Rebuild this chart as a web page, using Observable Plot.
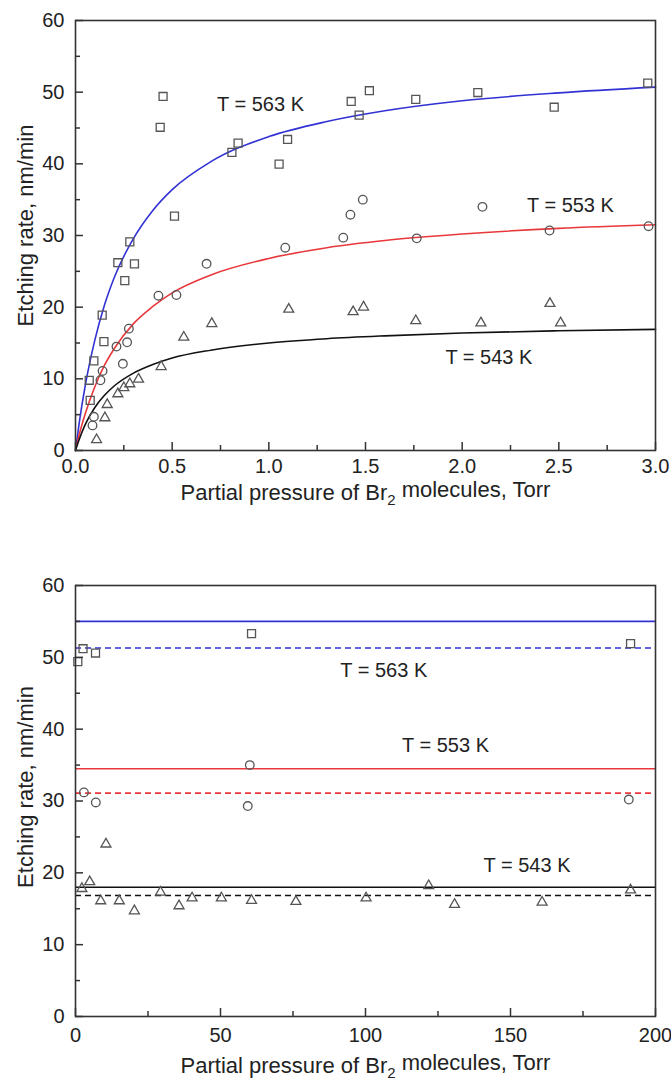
<!DOCTYPE html>
<html><head><meta charset="utf-8">
<script src="https://cdn.jsdelivr.net/npm/d3@7"></script>
<script src="https://cdn.jsdelivr.net/npm/@observablehq/plot@0.6"></script>
<style>body{margin:0;background:#fff;} #chart svg{display:block;}</style>
</head><body><div id="chart"></div>
<script>
// ---------- Data: top panel (0–3 Torr) ----------
const sq563x = [0.071,0.076,0.095,0.138,0.147,0.219,0.255,0.281,0.305,0.438,0.453,0.512,0.809,0.841,1.053,1.097,1.426,1.467,1.52,1.76,2.081,2.476,2.96];
const sq563y = [9.8,7.0,12.5,18.9,15.2,26.2,23.7,29.1,26.05,45.1,49.4,32.7,41.6,42.9,39.95,43.4,48.7,46.8,50.2,49.0,49.95,47.9,51.25];
const ci553x = [0.088,0.095,0.129,0.140,0.212,0.245,0.267,0.276,0.429,0.522,0.678,1.085,1.385,1.422,1.486,1.765,2.105,2.452,2.964];
const ci553y = [3.5,4.7,9.8,11.1,14.5,12.1,15.1,17.0,21.6,21.7,26.05,28.3,29.7,32.9,35.0,29.6,34.0,30.7,31.3];
const tr543x = [0.109,0.152,0.164,0.219,0.250,0.281,0.326,0.443,0.560,0.705,1.103,1.436,1.49,1.76,2.097,2.454,2.509];
const tr543y = [1.5,4.55,6.4,7.9,8.75,9.3,9.95,11.7,15.8,17.7,19.7,19.35,20.0,18.1,17.8,20.5,17.8];
// fitted curves
const curveX  = [0,0.02,0.05,0.1,0.15,0.2,0.3,0.4,0.5,0.7,1.0,1.3,1.6,2.0,2.5,3.0];
const fit563  = [0,4.0,9.0,15.4,20.3,24.1,29.6,33.5,36.4,40.3,43.8,45.9,47.4,48.8,49.9,50.7];
const fit553  = [0,2.3,5.1,8.9,11.9,14.2,17.7,20.1,22.0,24.5,26.8,28.3,29.3,30.2,31.0,31.5];
const fit543  = [0,1.6,3.6,6.0,7.7,9.0,10.8,12.0,12.9,14.0,15.0,15.6,16.0,16.4,16.7,16.9];
const labelsTop = [{t:"T = 563 K", x:0.957, y:48.3},{t:"T = 553 K", x:2.56, y:34.2},{t:"T = 543 K", x:2.138, y:13.0}];
const xMajorTop = [0,0.5,1.0,1.5,2.0,2.5,3.0];
const xMinorTop = [0.25,0.75,1.25,1.75,2.25,2.75];

// ---------- Data: bottom panel (0–200 Torr) ----------
const sqBx = [0.8,2.6,6.9,60.7,191.4];
const sqBy = [49.4,51.2,50.6,53.3,51.9];
const ciBx = [2.9,7.0,59.4,60.1,190.8];
const ciBy = [31.2,29.8,29.3,35.0,30.2];
const trBx = [2.2,4.9,8.7,10.5,15.1,20.3,29.3,35.7,40.2,50.3,60.7,76.0,100.2,121.8,130.7,160.9,191.4];
const trBy = [17.8,18.75,16.1,24.0,16.1,14.7,17.3,15.4,16.5,16.5,16.15,16.0,16.5,18.2,15.6,15.9,17.6];
const solidLevels  = [55.0, 34.5, 18.0];
const dashedLevels = [51.3, 31.1, 16.85];
const labelsBot = [{t:"T = 563 K", x:106.3, y:48.1},{t:"T = 553 K", x:127.6, y:37.7},{t:"T = 543 K", x:155.7, y:21.0}];
const xMajorBot = [0,50,100,150,200];
const xMinorBot = [25,75,125,175];

const yMajor = [0,10,20,30,40,50,60];
const yMinor = [5,15,25,35,45,55];
const yTitle = "Etching rate, nm/min";
const xTitle = "Partial pressure of Br2 molecules, Torr";

const colors = ["#3232d4", "#e8383c", "#111111"];
const FONT = "'Liberation Sans', Arial, Helvetica, sans-serif";
const W = 671, ML = 75, MR = 16;
const FW = W - ML - MR;
const markerStroke = "#555";

const zip = (xs, ys) => xs.map((x, i) => ({x, y: ys[i]}));

function panel({height, mt, mb, xDomain, xMajor, xMinor, fmt, series, extraMarks, labels, labDy, titleDy, yTitleDy}) {
  const FH = height - mt - mb;
  const marks = [
    ...extraMarks,
    Plot.dot(series[0], {x:"x", y:"y", symbol:"square", r:4.5, stroke:markerStroke, strokeWidth:1.3, fill:"none"}),
    Plot.dot(series[1], {x:"x", y:"y", symbol:"circle", r:4.3, stroke:markerStroke, strokeWidth:1.3, fill:"none"}),
    Plot.dot(series[2], {x:"x", y:"y", symbol:"triangle", r:3.7, stroke:markerStroke, strokeWidth:1.3, fill:"none"}),
    Plot.text(labels, {x:"x", y:"y", text:"t", fontSize:20, fill:"#222"}),
    Plot.frame({stroke:"#333", strokeWidth:1.6}),
    Plot.tickX(xMajor, {x:d=>d, insetTop:FH-8, stroke:"#333", strokeWidth:1.5}),
    Plot.tickX(xMinor, {x:d=>d, insetTop:FH-5, stroke:"#333", strokeWidth:1.5}),
    Plot.tickY(yMajor, {y:d=>d, insetRight:FW-8, stroke:"#333", strokeWidth:1.5}),
    Plot.tickY(yMinor, {y:d=>d, insetRight:FW-5, stroke:"#333", strokeWidth:1.5}),
    Plot.axisX(xMajor, {tickSize:0, tickPadding:labDy, tickFormat:fmt, fontSize:20, fill:"#222", label:null}),
    Plot.axisY(yMajor, {tickSize:0, tickPadding:11, fontSize:20, fill:"#222", label:null}),
    Plot.text([xTitle], {text:d=>d, frameAnchor:"bottom", textAnchor:"middle", dy:titleDy, fontSize:22, fill:"#222"}),
    Plot.text([yTitle], {text:d=>d, frameAnchor:"left", textAnchor:"middle", rotate:-90, dx:-50, dy:yTitleDy, fontSize:22, fill:"#222"})
  ];
  const svg = Plot.plot({
    width: W, height, marginTop: mt, marginBottom: mb, marginLeft: ML, marginRight: MR,
    style: {fontFamily: FONT, background: "#fff", overflow: "visible"},
    x: {domain: xDomain, nice: false, axis: null},
    y: {domain: [0, 60], nice: false, axis: null},
    marks
  });
  d3.select(svg).selectAll("text").each(function() {
    if (this.textContent === xTitle) {
      const t = d3.select(this);
      t.text(null);
      t.append("tspan").text("Partial pressure of Br");
      t.append("tspan").attr("font-size", 15).attr("dy", "0.35em").text("2");
      t.append("tspan").attr("dy", "-0.35em").text(" molecules, Torr");
    }
  });
  return svg;
}

const topCurves = [fit563, fit553, fit543].map((ys, i) =>
  Plot.line(zip(curveX, ys), {x:"x", y:"y", stroke:colors[i], strokeWidth:1.6, curve:"monotone-x"}));

const topSvg = panel({
  height: 530, mt: 20, mb: 80, xDomain: [0, 3],
  xMajor: xMajorTop, xMinor: xMinorTop, fmt: d => d.toFixed(1),
  series: [zip(sq563x, sq563y), zip(ci553x, ci553y), zip(tr543x, tr543y)],
  extraMarks: topCurves, labels: labelsTop, labDy: 8, titleDy: 49, yTitleDy: -10
});

const botLines = [
  ...solidLevels.map((v, i) => Plot.ruleY([v], {stroke:colors[i], strokeWidth:1.6})),
  ...dashedLevels.map((v, i) => Plot.ruleY([v], {stroke:colors[i], strokeWidth:1.6, strokeDasharray:"6,4"}))
];

const botSvg = panel({
  height: 552, mt: 55, mb: 66, xDomain: [0, 200],
  xMajor: xMajorBot, xMinor: xMinorBot, fmt: d => String(d),
  series: [zip(sqBx, sqBy), zip(ciBx, ciBy), zip(trBx, trBy)],
  extraMarks: botLines, labels: labelsBot, labDy: 11, titleDy: 56, yTitleDy: -14
});

document.getElementById("chart").append(topSvg, botSvg);
</script></body></html>
